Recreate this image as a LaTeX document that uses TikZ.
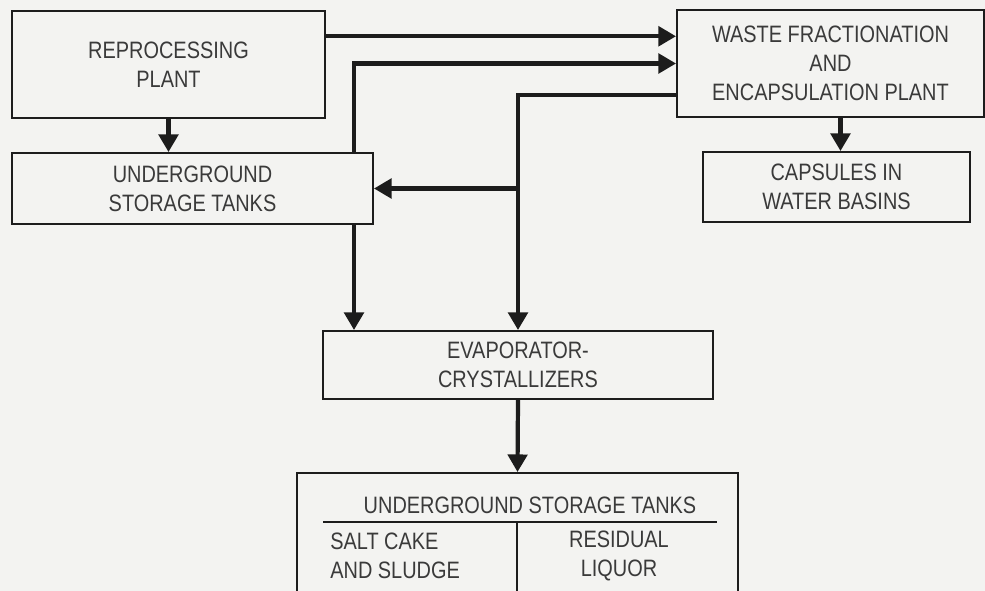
\documentclass[tikz,border=0pt]{standalone}
\usepackage{fontspec}
\setmainfont{Liberation Sans}[FakeStretch=0.84]
\usetikzlibrary{arrows.meta,positioning,calc}
\definecolor{paper}{HTML}{F3F3F1}
\definecolor{ink}{HTML}{1C1C1C}
\definecolor{lettr}{HTML}{3A3A3A}
\tikzset{
  blk/.style={draw=ink, line width=1.1pt, inner sep=0pt, align=center, font=\fontsize{13.5}{16.4}\selectfont, text=lettr},
  lbl/.style={inner sep=0pt, align=center, font=\fontsize{13.5}{16.4}\selectfont, text=lettr},
  arr/.style={-{Triangle[length=10pt,width=11pt]}, line width=2.4pt, draw=ink},
  rule/.style={draw=ink, line width=1.1pt},
}

\begin{document}
\begin{tikzpicture}[x=0.2mm, y=-0.2mm]
  \useasboundingbox (0,0) rectangle (985,591);
  \clip (0,0) rectangle (985,591);
  \fill[paper] (0,0) rectangle (985,591);
  % boxes
  \node[blk, minimum width=6.26cm, minimum height=2.14cm] (rp) at (168.5,64.5) {REPROCESSING\\PLANT};
  \node[blk, minimum width=7.22cm, minimum height=1.42cm] (ust) at (192.5,188.5) {UNDERGROUND\\STORAGE TANKS};
  \node[blk, minimum width=6.14cm, minimum height=2.14cm] (wf) at (830.5,63.5) {WASTE FRACTIONATION\\AND\\ENCAPSULATION PLANT};
  \node[blk, minimum width=5.34cm, minimum height=1.40cm] (cap) at (836.5,187) {CAPSULES IN\\WATER BASINS};
  \node[blk, minimum width=7.80cm, minimum height=1.36cm] (evap) at (518,365) {EVAPORATOR-\\CRYSTALLIZERS};
  \node[blk, minimum width=8.82cm, minimum height=2.54cm] (tanks) at (517.5,536.5) {};
  \node[lbl] (thead) at (530,505) {UNDERGROUND STORAGE TANKS};
  \node[lbl, align=left, anchor=west] (salt) at (330,556) {SALT CAKE\\AND SLUDGE};
  \node[lbl] (liq) at (619,556) {RESIDUAL\\LIQUOR};
  \draw[rule] (323,522) -- (717,522);
  \draw[rule, line width=0.6pt] (517,522) -- (517,591);
  % flows
  \coordinate (tap) at (354,0);
  \coordinate (in1) at ($(wf.north west)!0.25!(wf.south west)$);
  \coordinate (out3) at ($(wf.north west)!0.79!(wf.south west)$);
  \coordinate (drop) at ($(cap.north)+(4,0)$);
  \draw[arr] (rp.south) -- (rp.south |- ust.north);
  \draw[arr] (rp.east |- in1) -- (in1);
  \draw[arr] (ust.north -| tap) |- (wf.west);
  \draw[arr] (out3) -| (evap.north);
  \draw[arr] (evap.north |- ust.east) -- (ust.east);
  \draw[arr] (ust.south -| tap) -- (evap.north -| tap);
  \draw[arr] (drop |- wf.south) -- (drop);
  \draw[arr] (evap.south) -- (tanks.north);
\end{tikzpicture}
\end{document}
